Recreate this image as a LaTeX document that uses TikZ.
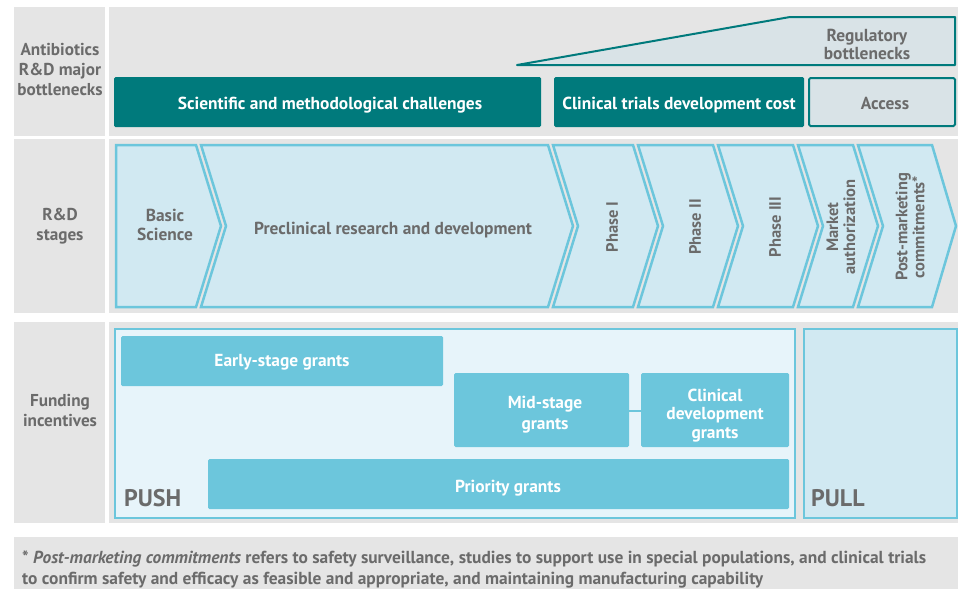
\documentclass[tikz,border=0pt]{standalone}
\usepackage{fontspec}
\setmainfont{PT Sans}
\definecolor{panelgray}{HTML}{E5E5E5}
\definecolor{tealdk}{HTML}{007A7C}
\definecolor{txtgray}{HTML}{6B6B6B}
\definecolor{skyb}{HTML}{6CC6DC}
\definecolor{stagefill}{HTML}{D1E9F2}
\definecolor{pushfill}{HTML}{E7F4FA}
\definecolor{accfill}{HTML}{D9E3E7}
\tikzset{
  panel/.style={fill=panelgray, draw=none},
  rowlabel/.style={text=txtgray, font=\bfseries\fontsize{17.2}{20}\selectfont, align=center},
  tealbox/.style={fill=tealdk, draw=none, rounded corners=1.5pt},
  tealtext/.style={text=white, font=\bfseries\fontsize{17.4}{19}\selectfont, yshift=-2pt},
  stage/.style={fill=stagefill, draw=skyb, line width=2.5pt, line join=miter},
  stagetext/.style={text=txtgray, font=\bfseries\fontsize{17.4}{19}\selectfont, align=center},
  vstage/.style={stagetext, rotate=90, font=\bfseries\fontsize{16.5}{17}\selectfont},
  grant/.style={fill=skyb, draw=none, rounded corners=1.5pt},
  granttext/.style={text=white, font=\bfseries\fontsize{17.4}{20}\selectfont, align=center},
  bigword/.style={text=txtgray, font=\bfseries\fontsize{24}{26}\selectfont, anchor=base west, inner sep=0pt},
}
\begin{document}
\begin{tikzpicture}[x=1pt, y=-1pt]
\useasboundingbox (0,0) rectangle (960,589);
% panels
\fill[panel] (14,7) rectangle (105,136);
\fill[panel] (109,7) rectangle (958,136);
\fill[panel] (14,139) rectangle (105,313);
\fill[panel] (109,139) rectangle (958,313);
\fill[panel] (14,322) rectangle (105,523);
\fill[panel] (109,322) rectangle (958,523);
\fill[panel] (14,537) rectangle (958,589);
% row labels
\node[rowlabel] (lab1) at (60,70) {Antibiotics\\R\&D major\\bottlenecks};
\node[rowlabel] (lab2) at (60,226) {R\&D\\stages};
\node[rowlabel] (lab3) at (60,410) {Funding\\incentives};
% row 1
\draw[tealdk, fill=accfill, line width=2pt, line join=round] (517,65) -- (790,17) -- (955,17) -- (955,65) -- cycle;
\node[rowlabel, font=\bfseries\fontsize{17.4}{18}\selectfont] (reg) at (867,44) {Regulatory\\bottlenecks};
\fill[tealbox] (114,77) rectangle (541,127);
\node[tealtext] (sci) at (330,103) {Scientific and methodological challenges};
\fill[tealbox] (554,77) rectangle (804,127);
\node[tealtext] (cli) at (679,103) {Clinical trials development cost};
\draw[tealdk, fill=accfill, line width=2pt, rounded corners=1.5pt] (809,78) rectangle (955,126);
\node[rowlabel, font=\bfseries\fontsize{17.4}{19}\selectfont] (acc) at (885,103) {Access};
% row 2 chevrons
\draw[stage] (116,145) -- (196,145) -- (221,226) -- (196,307) -- (116,307) -- cycle;
\draw[stage] (201,145) -- (548,145) -- (573,226) -- (548,307) -- (201,307) -- (226,226) -- cycle;
\draw[stage] (553,145) -- (633,145) -- (658,226) -- (633,307) -- (553,307) -- (578,226) -- cycle;
\draw[stage] (638,145) -- (713,145) -- (738,226) -- (713,307) -- (638,307) -- (663,226) -- cycle;
\draw[stage] (718,145) -- (793,145) -- (818,226) -- (793,307) -- (718,307) -- (743,226) -- cycle;
\draw[stage] (798,145) -- (853,145) -- (878,226) -- (853,307) -- (798,307) -- (823,226) -- cycle;
\draw[stage] (858,145) -- (932,145) -- (956,226) -- (932,307) -- (858,307) -- (883,226) -- cycle;
\node[stagetext] (basic) at (165,225) {Basic\\Science};
\node[stagetext] (precl) at (393,230) {Preclinical research and development};
\node[vstage] (ph1) at (612,227) {Phase I};
\node[vstage] (ph2) at (695,227) {Phase II};
\node[vstage] (ph3) at (775,227) {Phase III};
\node[vstage] (mkt) at (841,227) {Market\\authorization};
\node[vstage] (post) at (910,227) {Post-marketing\\commitments*};
% row 3
\draw[skyb, fill=pushfill, line width=1.8pt] (115,329) rectangle (795,518);
\draw[skyb, fill=stagefill, line width=1.8pt] (804,329) rectangle (957,518);
\fill[grant] (121,336) rectangle (443,386);
\node[granttext] (early) at (282,362) {Early-stage grants};
\fill[grant] (454,373) rectangle (629,447);
\node[granttext, font=\bfseries\fontsize{17.4}{21}\selectfont] (mid) at (545,415) {Mid-stage\\grants};
\fill[grant] (641,373) rectangle (789,447);
\node[granttext, font=\bfseries\fontsize{17.4}{18.5}\selectfont] (clin) at (715,415.5) {Clinical\\development\\grants};
\coordinate (midE) at (629,411);
\coordinate (clinW) at (641,411);
\draw[skyb, line width=2pt] (midE) -- (clinW);
\fill[grant] (208,459) rectangle (789,509);
\node[granttext] (prio) at (508,488) {Priority grants};
\node[bigword] (push) at (124,506) {PUSH};
\node[bigword] (pull) at (811,506) {PULL};
% footnote
\node[text=txtgray, anchor=north west, align=left, inner sep=0pt,
      font=\bfseries\fontsize{17.4}{21}\selectfont] (foot) at (22,551)
  {* \textit{Post-marketing commitments} refers to safety surveillance, studies to support use in special populations, and clinical trials\\
   to confirm safety and efficacy as feasible and appropriate, and maintaining manufacturing capability};
\end{tikzpicture}
\end{document}
